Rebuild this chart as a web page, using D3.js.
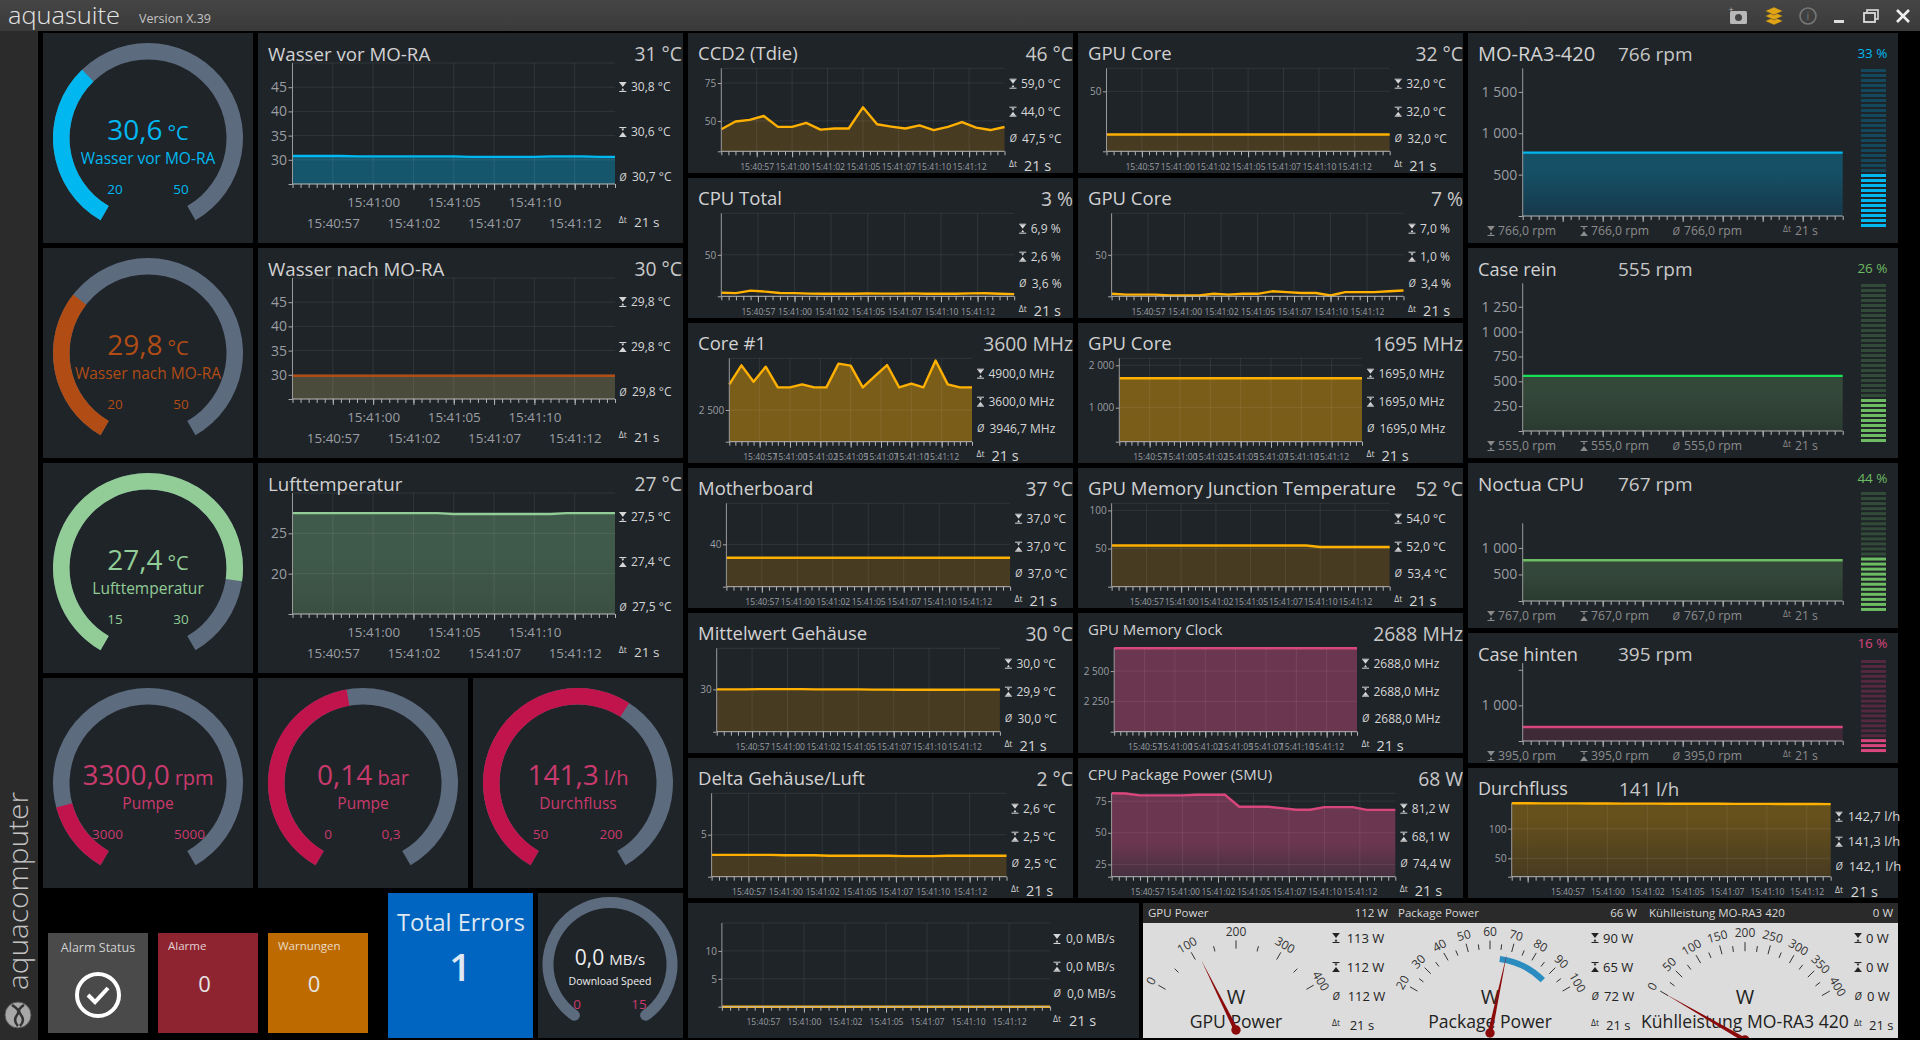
<!DOCTYPE html>
<html>
<head>
<meta charset="utf-8">
<title>aquasuite</title>
<script src="https://cdn.jsdelivr.net/npm/d3@7/dist/d3.min.js"></script>
<style>
    html, body { margin: 0; padding: 0; background: #000; overflow: hidden; }
    svg { display: block; }
    text { font-family: "Open Sans", "Noto Sans", sans-serif; }
</style>
</head>
<body>
<svg id="dash" width="1920" height="1040"></svg>
<script>
// --- time axis values ---
const sampleTimes = ["15:40:55","15:40:56","15:40:57","15:40:58","15:40:59","15:41:00","15:41:01","15:41:02","15:41:03","15:41:04","15:41:05","15:41:06","15:41:07","15:41:08","15:41:09","15:41:10","15:41:11","15:41:12","15:41:13","15:41:14","15:41:15"];
const majorTimes = ["15:40:57.500","15:41:00.000","15:41:02.500","15:41:05.000","15:41:07.500","15:41:10.000","15:41:12.500"];

// --- series values, one reading per second ---
const wasserVor = [30.8,30.8,30.8,30.8,30.7,30.7,30.7,30.7,30.7,30.7,30.7,30.6,30.6,30.6,30.6,30.6,30.7,30.7,30.7,30.6,30.6];
const wasserNach = [29.8,29.8,29.8,29.8,29.8,29.8,29.8,29.8,29.8,29.8,29.8,29.8,29.8,29.8,29.8,29.8,29.8,29.8,29.8,29.8,29.8];
const luftTemp = [27.5,27.5,27.5,27.5,27.5,27.5,27.5,27.5,27.5,27.5,27.4,27.4,27.4,27.4,27.4,27.4,27.4,27.5,27.5,27.5,27.5];
const ccd2 = [44.5,49.6,50.7,53.3,46.1,46.1,48.7,44.3,45,45,59,47.8,46.3,45,47.1,44,46.1,49.3,45.6,44,46];
const cpuTotal = [4.3,3.8,6.9,5.6,4,3.8,3.2,3.1,3,3.1,3.4,3.2,3.2,3.5,3,3.1,3,3.5,3.6,3,2.6];
const gpuCoreTemp = [32,32,32,32,32,32,32,32,32,32,32,32,32,32,32,32,32,32,32,32,32];
const gpuCoreLoad = [3,2,2,2,1,1,1,3,2,3,3,6,5,4,4,1,5,5,5,6,7];
const core1 = [3746,4668,3875,4603,3600,3600,3746,3600,3600,4750,4652,3600,4150,4684,3600,3778,3600,4900,3746,3600,3600];
const gpuCoreClock = [1695,1695,1695,1695,1695,1695,1695,1695,1695,1695,1695,1695,1695,1695,1695,1695,1695,1695,1695,1695,1695];
const motherboard = [37,37,37,37,37,37,37,37,37,37,37,37,37,37,37,37,37,37,37,37,37];
const gpuMemJunction = [54,54,54,54,54,54,54,54,54,54,54,54,54,54,54,52,52,52,52,52,52];
const mittelGehaeuse = [30,30,30,30.05,30.05,30.05,30.05,30,30,30,30,29.95,29.95,29.9,29.9,29.9,29.9,29.9,29.95,29.95,29.95];
const gpuMemClock = [2688,2688,2688,2688,2688,2688,2688,2688,2688,2688,2688,2688,2688,2688,2688,2688,2688,2688,2688,2688,2688];
const deltaGehaeuse = [2.6,2.6,2.6,2.6,2.6,2.55,2.55,2.55,2.5,2.5,2.5,2.5,2.5,2.45,2.45,2.45,2.5,2.5,2.5,2.5,2.5];
const packagePower = [81.2,81,79.6,79.6,79.6,79.6,80,80,80,70.6,70.6,70.6,69.5,68.2,68.2,70.3,70.3,70.3,68.1,68.1,68.1];
const downloadSpeed = [0,0,0,0,0,0,0,0,0,0,0,0,0,0,0,0,0,0,0,0,0];
const moRaRpm = [766,766,766,766,766,766,766,766,766,766,766,766,766,766,766,766,766,766,766,766,766];
const caseReinRpm = [555,555,555,555,555,555,555,555,555,555,555,555,555,555,555,555,555,555,555,555,555];
const noctuaRpm = [767,767,767,767,767,767,767,767,767,767,767,767,767,767,767,767,767,767,767,767,767];
const caseHintenRpm = [395,395,395,395,395,395,395,395,395,395,395,395,395,395,395,395,395,395,395,395,395];
const durchfluss = [142.7,142.7,142.6,142.5,142.5,142.3,142.3,142.2,142.1,142.1,142,142,141.9,141.9,141.8,141.8,141.7,141.6,141.5,141.4,141.3];

// --- y ticks per chart, the first one of each chart has no label ---
const tempTicks = [25,30,35,40,45];
const luftTicks = [15,20,25];
const ccdTicks = [30,50,75];
const gpuTempTicks = [25,50];
const loadTicks = [0,50];
const coreTicks = [965,2500];
const gpuClockTicks = [198,1000,2000];
const boardTicks = [30.5,40];
const junctionTicks = [0,50,100];
const mittelTicks = [20,30];
const memClockTicks = [2000,2250,2500];
const deltaTicks = [0,5];
const powerTicks = [15.3,25,50,75];
const downloadTicks = [0,5,10];
const moRaTicks = [0,500,1000,1500];
const caseReinTicks = [0,250,500,750,1000,1250];
const noctuaTicks = [0,500,1000];
const caseHintenTicks = [0,1000,2000];
const flowTicks = [19,50,100];

// --- fan duty in percent ---
const fanDuty = [33,26,44,16];

// --- gauge readings: value, scale min, scale max ---
const gaugeValues = [30.6,29.8,27.4,3300,0.14,141.3,0];
const gaugeMins = [20,20,15,3000,0,50,0];
const gaugeMaxs = [50,50,30,5000,0.3,200,15];

// --- analog meters ---
const gpuMeterTicks = [0,50,100,150,200,250,300,350,400];
const gpuMeterLabels = [0,100,200,300,400];
const packageMeterTicks = [20,25,30,35,40,45,50,55,60,65,70,75,80,85,90,95,100];
const packageMeterLabels = [20,30,40,50,60,70,80,90,100];
const coolingMeterTicks = [0,25,50,75,100,125,150,175,200,225,250,275,300,325,350,375,400];
const coolingMeterLabels = [0,50,100,150,200,250,300,350,400];
const meterNeedles = [112,68,0];
const packageRange = [65,90];

const svg = d3.select("#dash");
const parseClock = d3.timeParse("%H:%M:%S");
const parseClockMs = d3.timeParse("%H:%M:%S.%L");
const clockFormat = d3.timeFormat("%H:%M:%S");
const times = sampleTimes.map(parseClock);
const majors = majorTimes.map(parseClockMs);
const numFormat = d3.formatLocale({decimal: ",", thousands: " ", grouping: [3], currency: ["", ""]}).format(",d");

const panelBg = "#1f2429";
const amber = "#ffb000";
const pink = "#d9467c";
let gradCount = 0;

function label(g, x, y, str, size, color, anchor) {
    return g.append("text")
        .attr("x", x).attr("y", y)
        .attr("dy", "0.35em")
        .attr("text-anchor", anchor || "start")
        .attr("font-size", size)
        .attr("fill", color)
        .text(str);
}

function panel(x, y, w, h, color) {
    svg.append("rect").attr("x", x).attr("y", y).attr("width", w).attr("height", h).attr("fill", color || panelBg);
}

// hourglass icon, kind is max or min
function hourglass(g, x, y, kind, color) {
    const big = kind === "max" ? -1 : 1;
    const p = d3.path();
    p.moveTo(x - 3.5, y - 4.5); p.lineTo(x + 3.5, y - 4.5);
    p.moveTo(x - 3.5, y + 4.5); p.lineTo(x + 3.5, y + 4.5);
    g.append("path").attr("d", p).attr("stroke", color).attr("stroke-width", 1);
    const t = d3.path();
    t.moveTo(x - 3, y + big * 4); t.lineTo(x + 3, y + big * 4); t.lineTo(x, y); t.closePath();
    t.moveTo(x - 1.5, y - big * 3.5); t.lineTo(x + 1.5, y - big * 3.5); t.lineTo(x, y - big * 1); t.closePath();
    g.append("path").attr("d", t).attr("fill", color);
}

function statIcon(g, kind, x, y, color) {
    if (kind === "avg") label(g, x, y, "Ø", 10, color, "middle").attr("font-style", "italic");
    else if (kind === "dt") label(g, x, y - 2, "Δt", 8.5, color, "middle");
    else hourglass(g, x, y, kind, color);
}

function statColumn(g, iconX, textX, ys, texts, size, dtSize, color) {
    ["max", "min", "avg"].forEach((k, i) => {
        statIcon(g, k, iconX, ys[i], color);
        label(g, textX + (k === "avg" ? 1 : 0), ys[i], texts[i], size, color);
    });
    statIcon(g, "dt", iconX, ys[3], color);
    label(g, textX + 3, ys[3], "21 s", dtSize, color);
}

// one history chart: grid, filled area, line and time axis
function timeChart(o) {
    const g = svg.append("g");
    const shift = o.shift || 0;
    const ts = times.map(t => d3.timeSecond.offset(t, shift));
    const x = d3.scaleTime().domain([ts[0], ts[ts.length - 1]]).range([o.x0, o.x1]);
    const y = d3.scaleLinear().domain(o.domain).range([o.y1, o.y0]);
    const rows = o.values.map((v, i) => ({t: ts[i], v: v}));
    const gridX = o.extraMajor ? [parseClock(o.extraMajor)].concat(majors) : majors;

    let fill = o.fill;
    if (o.fillEnd) {
        const id = "grad" + (gradCount++);
        const grad = svg.append("defs").append("linearGradient").attr("id", id)
            .attr("x1", 0).attr("x2", 0).attr("y1", 0).attr("y2", 1);
        grad.append("stop").attr("offset", o.fillStop || "45%").attr("stop-color", o.fill);
        grad.append("stop").attr("offset", "100%").attr("stop-color", o.fillEnd);
        fill = `url(#${id})`;
    }
    if (fill) {
        g.append("path").datum(rows).attr("fill", fill)
            .attr("d", d3.area().x(d => x(d.t)).y0(o.y1).y1(d => y(d.v)));
    }

    // grid sits over the area so that it still shows through
    if (o.grid !== false) {
        g.selectAll(".gx").data(gridX).enter().append("line")
            .attr("x1", d => x(d)).attr("x2", d => x(d))
            .attr("y1", o.y0).attr("y2", o.y1)
            .attr("stroke", "rgba(255,255,255,0.08)");
        g.selectAll(".gy").data(o.ticks.concat(o.domain[1])).enter().append("line")
            .attr("x1", o.x0).attr("x2", o.x1)
            .attr("y1", d => y(d)).attr("y2", d => y(d))
            .attr("stroke", "rgba(255,255,255,0.08)");
    }

    g.append("path").datum(rows).attr("fill", "none")
        .attr("stroke", o.line).attr("stroke-width", o.lineWidth || 2.4)
        .attr("stroke-linejoin", "round")
        .attr("d", d3.line().x(d => x(d.t)).y(d => y(d.v)));

    // y axis
    const yAxis = d3.axisLeft(y).tickValues(o.ticks).tickSize(o.tickLen || 3.5).tickPadding(1.5)
        .tickFormat(d => d === o.ticks[0] || d === o.hideTick ? "" : numFormat(d));
    const ya = g.append("g").attr("transform", `translate(${o.x0},0)`).call(yAxis);
    ya.select(".domain").remove();
    ya.selectAll("line").attr("stroke", "#a8a8a8");
    ya.selectAll("text").attr("font-size", o.yFont || 10).attr("fill", "#9a9ea2");
    g.append("line").attr("x1", o.x0).attr("x2", o.x0).attr("y1", o.y0).attr("y2", o.y1).attr("stroke", "#9a9a9a");

    // x axis: minor ticks every half second, major ticks carry the labels
    const ax = g.append("g").attr("transform", `translate(0,${o.y1})`);
    const minor = d3.axisBottom(x).tickValues(x.ticks(d3.timeMillisecond.every(500))).tickSize(4).tickFormat("");
    const mi = ax.append("g").call(minor);
    mi.select(".domain").remove();
    mi.selectAll("line").attr("stroke", "#b4b4b4");
    ax.append("line").attr("x1", o.x0).attr("x2", o.x1).attr("stroke", "#b4b4b4");
    const major = d3.axisBottom(x).tickValues(gridX).tickSize(6)
        .tickFormat(d => o.noTimes || (o.extraMajor && d === gridX[0]) ? "" : clockFormat(d));
    const ma = ax.append("g").call(major);
    ma.select(".domain").remove();
    ma.selectAll("line").attr("stroke", "#b4b4b4");
    ma.selectAll("text")
        .attr("font-size", o.xFont || 8.6)
        .attr("fill", "#9a9ea2")
        .attr("dy", "0.35em")
        .attr("y", (d, i) => o.stagger ? (i % 2 === 0 ? 39 : 18) : 15.4);
    return g;
}

function chartTitle(px, py, pw, title, value, titleOpts) {
    const g = svg.append("g");
    const t = titleOpts || {};
    label(g, px + 10, py + (t.dy || 21), title, t.size || 18.5, "#d2d2d2");
    label(g, px + pw, py + 21, value, 19.3, "#c8c8c8", "end");
    return g;
}

function gauge(o) {
    const g = svg.append("g").attr("transform", `translate(${o.cx},${o.cy})`);
    const angle = d3.scaleLinear().domain([o.min, o.max]).range([-150 * Math.PI / 180, 150 * Math.PI / 180]);
    const arc = d3.arc().innerRadius(o.r - o.thick).outerRadius(o.r).cornerRadius(o.round || 0);
    g.append("path").attr("d", arc({startAngle: angle(o.min), endAngle: angle(o.max)})).attr("fill", "#5d6b7e");
    if (o.value > o.min) {
        g.append("path").attr("d", arc({startAngle: angle(o.min), endAngle: angle(o.value)})).attr("fill", o.arcColor);
    }
    const vt = g.append("text").attr("text-anchor", "middle").attr("y", o.valueY).attr("fill", o.valueColor || o.color);
    vt.append("tspan").attr("font-size", o.valueSize).text(o.valueText);
    vt.append("tspan").attr("font-size", o.unitSize).attr("dx", 5).text(o.unit);
    label(g, 0, o.labelY, o.name, o.nameSize, o.nameColor || o.color, "middle");
    label(g, o.loX, o.scaleY, o.loText, o.scaleSize, o.color, "middle");
    label(g, o.hiX, o.scaleY, o.hiText, o.scaleSize, o.color, "middle");
}

// analog needle meter of the bottom right block
function meter(o) {
    const g = meterLayer.append("g");
    const a = d3.scaleLinear().domain([o.ticks[0], o.ticks[o.ticks.length - 1]]).range([-60, 60]);
    const polar = (deg, r) => {
        const t = deg * Math.PI / 180;
        return [o.cx + r * Math.sin(t), o.cy - r * Math.cos(t)];
    };
    o.ticks.forEach(v => {
        const isMajor = o.labels.includes(v);
        const from = polar(a(v), o.r * 0.83);
        const to = polar(a(v), o.r * (isMajor ? 0.915 : 0.885));
        g.append("line").attr("x1", from[0]).attr("y1", from[1]).attr("x2", to[0]).attr("y2", to[1])
            .attr("stroke", "#333").attr("stroke-width", 1);
    });
    o.labels.forEach(v => {
        const p = polar(a(v), o.r);
        g.append("text").attr("text-anchor", "middle").attr("dy", "0.35em")
            .attr("font-size", 12).attr("fill", "#333")
            .attr("transform", `translate(${p[0]},${p[1]}) rotate(${a(v)})`).text(v);
    });
    if (o.band) {
        const bandArc = d3.arc().innerRadius(o.r * 0.71).outerRadius(o.r * 0.77)
            .startAngle(a(o.band[0]) * Math.PI / 180).endAngle(a(o.band[1]) * Math.PI / 180);
        g.append("path").attr("transform", `translate(${o.cx},${o.cy})`).attr("d", bandArc()).attr("fill", "#2b8cc0");
    }
    label(g, o.cx, 996.7, "W", 20, "#222", "middle");
    label(g, o.cx, 1022, o.name, 17.6, "#222", "middle");
    const deg = a(o.value);
    const tip = polar(deg, o.needle);
    const side1 = polar(deg - 90, 2.2);
    const side2 = polar(deg + 90, 2.2);
    g.append("path").attr("d", d3.line()([tip, side1, side2])).attr("fill", "#8b0a0a");
    g.append("circle").attr("cx", o.cx).attr("cy", o.cy).attr("r", 4.7).attr("fill", "#8b0a0a");
}

// vertical segment bar of a fan panel
function dutyBar(x, y0, y1, duty, color, dim) {
    const n = Math.round((y1 - y0) / 5);
    const band = d3.scaleBand().domain(d3.range(n)).range([y1, y0]);
    const lit = Math.ceil(duty / 100 * n - 0.1);
    svg.append("g").selectAll("rect").data(d3.range(n)).enter().append("rect")
        .attr("x", x).attr("width", 25)
        .attr("y", d => band(d)).attr("height", 3)
        .attr("fill", d => d < lit ? color : dim);
}

// ---------- chrome ----------
svg.append("rect").attr("width", 1920).attr("height", 1040).attr("fill", "#000");
const barGrad = svg.append("defs").append("linearGradient").attr("id", "barGrad").attr("x1", 0).attr("x2", 0).attr("y1", 0).attr("y2", 1);
barGrad.append("stop").attr("offset", "0%").attr("stop-color", "#454545");
barGrad.append("stop").attr("offset", "100%").attr("stop-color", "#3a3a3a");
svg.append("rect").attr("width", 1920).attr("height", 31).attr("fill", "url(#barGrad)");
svg.append("rect").attr("y", 31).attr("width", 38).attr("height", 1009).attr("fill", "#2b2b2b");

const chrome = svg.append("g");
chrome.append("text").attr("x", 8).attr("y", 24).attr("font-size", 23).attr("fill", "#e4e4e4")
    .attr("font-family", "Lato").attr("font-weight", 300)
    .attr("textLength", 112).attr("lengthAdjust", "spacingAndGlyphs").text("aquasuite");
label(chrome, 139, 19, "Version X.39", 12.5, "#c4c4c4");
chrome.append("text").attr("transform", "translate(28,990) rotate(-90)")
    .attr("font-size", 27).attr("fill", "#c4c4c4").attr("font-family", "Lato").attr("font-weight", 300)
    .attr("textLength", 198).attr("lengthAdjust", "spacingAndGlyphs").text("aquacomputer");
chrome.append("circle").attr("cx", 18).attr("cy", 1015).attr("r", 13).attr("fill", "#a8a8a8").attr("stroke", "#555");
chrome.append("path").attr("d", "M12 1005c6 4 8 6 5 10s-2 8 1 11M24 1005c-6 4-6 6-3 10s2 8-1 11").attr("fill", "none").attr("stroke", "#333").attr("stroke-width", 2.5);

// window icons
const icons = svg.append("g");
icons.append("rect").attr("x", 1730).attr("y", 11).attr("width", 17).attr("height", 13).attr("rx", 1.5).attr("fill", "#b8b8b8");
icons.append("circle").attr("cx", 1738.5).attr("cy", 17.5).attr("r", 3.5).attr("fill", "#444");
label(icons, 1731, 10, "+", 9, "#b8b8b8", "middle");
[22, 17, 12].forEach(yy => {
    icons.append("path").attr("d", `M1765 ${yy - 1}l9-4 9 4-9 4z`).attr("fill", "#e0a416").attr("stroke", "#3a3a3a").attr("stroke-width", 0.5);
});
icons.append("circle").attr("cx", 1808).attr("cy", 16).attr("r", 8).attr("fill", "none").attr("stroke", "#777").attr("stroke-width", 1.6);
label(icons, 1808, 16, "i", 11, "#777", "middle");
icons.append("rect").attr("x", 1834).attr("y", 20).attr("width", 10).attr("height", 3).attr("fill", "#ddd");
icons.append("rect").attr("x", 1867).attr("y", 10).attr("width", 11).attr("height", 9).attr("fill", "none").attr("stroke", "#ddd").attr("stroke-width", 1.6);
icons.append("rect").attr("x", 1864).attr("y", 13).attr("width", 11).attr("height", 9).attr("fill", "#3f3f3f").attr("stroke", "#ddd").attr("stroke-width", 1.8);
icons.append("path").attr("d", "M1897 10l12 12M1909 10l-12 12").attr("stroke", "#eee").attr("stroke-width", 2.6);

// ---------- left gauges ----------
[[43,33],[43,248],[43,463],[43,678],[258,678],[473,678]].forEach(p => panel(p[0], p[1], 210, 210));
const blue = "#00b8ef", rust = "#b04c14", green = "#92cc96", red = "#c2144c", pinkText = "#c93a6c";
const gaugeText = {r: 95, thick: 16.5, valueY: 1.5, valueSize: 28, unitSize: 20, labelY: 21, nameSize: 15.5, scaleY: 51, scaleSize: 13.5};

gauge({...gaugeText, cx: 148, cy: 138, min: gaugeMins[0], max: gaugeMaxs[0], value: gaugeValues[0], valueText: "30,6", unit: "°C", name: "Wasser vor MO-RA", loText: "20", hiText: "50", loX: -33, hiX: 33, arcColor: blue, color: blue});
gauge({...gaugeText, cx: 148, cy: 353, min: gaugeMins[1], max: gaugeMaxs[1], value: gaugeValues[1], valueText: "29,8", unit: "°C", name: "Wasser nach MO-RA", loText: "20", hiText: "50", loX: -33, hiX: 33, arcColor: rust, color: rust});
gauge({...gaugeText, cx: 148, cy: 568, min: gaugeMins[2], max: gaugeMaxs[2], value: gaugeValues[2], valueText: "27,4", unit: "°C", name: "Lufttemperatur", loText: "15", hiText: "30", loX: -33, hiX: 33, arcColor: green, color: green});
gauge({...gaugeText, cx: 148, cy: 783, min: gaugeMins[3], max: gaugeMaxs[3], value: gaugeValues[3], valueText: "3300,0", unit: "rpm", name: "Pumpe", loText: "3000", hiText: "5000", loX: -40.5, hiX: 41.5, arcColor: red, color: pinkText});
gauge({...gaugeText, cx: 363, cy: 783, min: gaugeMins[4], max: gaugeMaxs[4], value: gaugeValues[4], valueText: "0,14", unit: "bar", name: "Pumpe", loText: "0", hiText: "0,3", loX: -35, hiX: 28, arcColor: red, color: pinkText});
gauge({...gaugeText, cx: 578, cy: 783, min: gaugeMins[5], max: gaugeMaxs[5], value: gaugeValues[5], valueText: "141,3", unit: "l/h", name: "Durchfluss", loText: "50", hiText: "200", loX: -37.5, hiX: 33, arcColor: red, color: pinkText});

// ---------- left history charts ----------
const bigChart = {stagger: true, xFont: 13.4, yFont: 14, tickLen: 4};
const bigPanels = [
    {y: 33, title: "Wasser vor MO-RA", value: "31 °C", values: wasserVor, domain: [25, 50], ticks: tempTicks, line: blue, fill: "#15566c", stats: ["30,8 °C", "30,6 °C", "30,7 °C"]},
    {y: 248, title: "Wasser nach MO-RA", value: "30 °C", values: wasserNach, domain: [25, 50], ticks: tempTicks, line: rust, fill: "#4b4b3b", stats: ["29,8 °C", "29,8 °C", "29,8 °C"]},
    {y: 463, title: "Lufttemperatur", value: "27 °C", values: luftTemp, domain: [15, 30], ticks: luftTicks, line: green, fill: "#3f5a4a", fillEnd: "#3a4f42", stats: ["27,5 °C", "27,4 °C", "27,5 °C"]}
];
bigPanels.forEach(b => {
    panel(258, b.y, 425, 210);
    chartTitle(258, b.y, 424, b.title, b.value, {size: 18.7});
    timeChart({...bigChart, x0: 292.5, x1: 615, y0: b.y + 30, y1: b.y + 151, values: b.values, domain: b.domain, ticks: b.ticks, line: b.line, fill: b.fill, fillEnd: b.fillEnd});
    statColumn(svg.append("g"), 622.8, 631, [b.y + 54, b.y + 99, b.y + 144, b.y + 189], b.stats, 12, 13.5, "#d6d6d6");
});

// ---------- middle columns ----------
const smallPanels = [
    {x: 688, y: 33, title: "CCD2 (Tdie)", value: "46 °C", values: ccd2, domain: [30, 84.7], ticks: ccdTicks, x0: 721.3, x1: 1004.5, top: 35.3, bottom: 118.3, line: amber, fill: "#473b22", stats: ["59,0 °C", "44,0 °C", "47,5 °C"]},
    {x: 1078, y: 33, title: "GPU Core", value: "32 °C", values: gpuCoreTemp, domain: [25, 59.6], ticks: gpuTempTicks, x0: 1106.5, x1: 1389.7, top: 35.3, bottom: 118.3, line: amber, fill: "#473b22", stats: ["32,0 °C", "32,0 °C", "32,0 °C"]},
    {x: 688, y: 178, title: "CPU Total", value: "3 %", values: cpuTotal, domain: [0, 100], ticks: loadTicks, x0: 721.3, x1: 1014.2, top: 35.3, bottom: 118.3, line: amber, stats: ["6,9 %", "2,6 %", "3,6 %"]},
    {x: 1078, y: 178, title: "GPU Core", value: "7 %", values: gpuCoreLoad, domain: [0, 100], ticks: loadTicks, x0: 1111.6, x1: 1403.5, top: 35.3, bottom: 118.3, line: amber, stats: ["7,0 %", "1,0 %", "3,4 %"]},
    {x: 688, y: 323, title: "Core #1", value: "3600 MHz", values: core1, domain: [965, 5010], ticks: coreTicks, x0: 729.3, x1: 972, top: 35.3, bottom: 118.7, line: amber, fill: "#7b5d1a", stats: ["4900,0 MHz", "3600,0 MHz", "3946,7 MHz"]},
    {x: 1078, y: 323, title: "GPU Core", value: "1695 MHz", values: gpuCoreClock, domain: [198, 2165], ticks: gpuClockTicks, x0: 1119.3, x1: 1362, top: 35.3, bottom: 118.7, line: amber, fill: "#7b5d1a", stats: ["1695,0 MHz", "1695,0 MHz", "1695,0 MHz"]},
    {x: 688, y: 468, title: "Motherboard", value: "37 °C", values: motherboard, domain: [30.5, 49.2], ticks: boardTicks, x0: 726.4, x1: 1010.1, top: 35.3, bottom: 118.7, line: amber, fill: "#473b22", stats: ["37,0 °C", "37,0 °C", "37,0 °C"]},
    {x: 1078, y: 468, title: "GPU Memory Junction Temperature", value: "52 °C", values: gpuMemJunction, domain: [0, 109.3], ticks: junctionTicks, x0: 1111.6, x1: 1389.7, top: 35.3, bottom: 118.7, line: amber, fill: "#473b22", stats: ["54,0 °C", "52,0 °C", "53,4 °C"]},
    {x: 688, y: 613, title: "Mittelwert Gehäuse", value: "30 °C", values: mittelGehaeuse, domain: [20, 39.7], ticks: mittelTicks, x0: 716.7, x1: 999.9, top: 35.3, bottom: 118.7, line: amber, fill: "#473b22", stats: ["30,0 °C", "29,9 °C", "30,0 °C"]},
    {x: 1078, y: 613, title: "GPU Memory Clock", titleSize: 15, titleDy: 17, value: "2688 MHz", values: gpuMemClock, domain: [2000, 2688], ticks: memClockTicks, x0: 1114.2, x1: 1357, top: 35.3, bottom: 118.7, line: pink, fill: "#6b3650", stats: ["2688,0 MHz", "2688,0 MHz", "2688,0 MHz"]},
    {x: 688, y: 758, title: "Delta Gehäuse/Luft", value: "2 °C", values: deltaGehaeuse, domain: [0, 9.93], ticks: deltaTicks, x0: 711.6, x1: 1006.5, top: 35.3, bottom: 118.7, line: amber, fill: "#473b22", stats: ["2,6 °C", "2,5 °C", "2,5 °C"]},
    {x: 1078, y: 758, title: "CPU Package Power (SMU)", titleSize: 15, titleDy: 17, value: "68 W", values: packagePower, domain: [15.3, 81.2], ticks: powerTicks, x0: 1111.6, x1: 1395.3, top: 35.3, bottom: 118.7, line: pink, fill: "#6b3650", fillEnd: "#46303f", fillStop: "60%", stats: ["81,2 W", "68,1 W", "74,4 W"]}
];
smallPanels.forEach(s => {
    panel(s.x, s.y, 385, 140);
    chartTitle(s.x, s.y, 385, s.title, s.value, {size: s.titleSize, dy: s.titleDy});
    timeChart({x0: s.x0, x1: s.x1, y0: s.y + s.top, y1: s.y + s.bottom, values: s.values, domain: s.domain, ticks: s.ticks, line: s.line, fill: s.fill, fillEnd: s.fillEnd, fillStop: s.fillStop});
    statColumn(svg.append("g"), s.x1 + 8.5, s.x1 + 16.5, [s.y + 50.7, s.y + 78.7, s.y + 105.7, s.y + 132.7], s.stats, 12, 14.5, "#d6d6d6");
});

// download chart below the middle columns
panel(688, 903, 451, 135);
timeChart({x0: 721.9, x1: 1050.1, y0: 923, y1: 1006.7, values: downloadSpeed, domain: [0, 15], ticks: downloadTicks, line: amber});
statColumn(svg.append("g"), 1057, 1066, [939, 966.7, 993.3, 1020.7], ["0,0 MB/s", "0,0 MB/s", "0,0 MB/s"], 12, 14.5, "#d6d6d6");

// ---------- fan panels on the right ----------
const fanPanels = [
    {y: 33, h: 210, title: "MO-RA3-420", titleSize: 20, value: "766 rpm", duty: fanDuty[0], values: moRaRpm, domain: [0, 1785], ticks: moRaTicks, y0: 68.3, y1: 216, titleY: 54, pctY: 53, barTop: 69, barBottom: 229, line: blue, fill: "#155066", fillEnd: "#17384a", dim: "#14485c", statY: 231, stats: ["766,0 rpm", "766,0 rpm", "766,0 rpm"], pctColor: blue},
    {y: 248, h: 210, title: "Case rein", titleSize: 18.2, value: "555 rpm", duty: fanDuty[1], values: caseReinRpm, domain: [0, 1486], ticks: caseReinTicks, y0: 283.3, y1: 431, titleY: 269.3, pctY: 268, barTop: 284, barBottom: 444, line: "#17e056", fill: "#34483a", fillEnd: "#2a3a30", dim: "#324a38", statY: 446, stats: ["555,0 rpm", "555,0 rpm", "555,0 rpm"], pctColor: "#6dbb62", barColor: "#6dbb62"},
    {y: 463, h: 165, title: "Noctua CPU", titleSize: 19, value: "767 rpm", duty: fanDuty[2], values: noctuaRpm, domain: [0, 1464], ticks: noctuaTicks, y0: 523.3, y1: 601, titleY: 484, pctY: 478, barTop: 492, barBottom: 613, line: "#6dbb62", fill: "#34483a", fillEnd: "#2a3a30", dim: "#324a38", statY: 616, stats: ["767,0 rpm", "767,0 rpm", "767,0 rpm"], pctColor: "#6dbb62"},
    {y: 633, h: 130, title: "Case hinten", titleSize: 18.2, value: "395 rpm", duty: fanDuty[3], values: caseHintenRpm, domain: [0, 2190], ticks: caseHintenTicks, hideTick: 2000, y0: 663, y1: 741, titleY: 654.3, pctY: 643, barTop: 660, barBottom: 754, line: pink, fill: "#3f2a38", dim: "#54293f", statY: 756, stats: ["395,0 rpm", "395,0 rpm", "395,0 rpm"], pctColor: pink}
];
fanPanels.forEach(f => {
    panel(1468, f.y, 430, f.h);
    const g = svg.append("g");
    label(g, 1478, f.titleY, f.title, f.titleSize, "#d2d2d2");
    label(g, 1618, f.titleY, f.value, 19, "#c8c8c8");
    label(g, 1887.5, f.pctY, f.duty + " %", 13.5, f.pctColor, "end");
    dutyBar(1861, f.barTop, f.barBottom, f.duty, f.barColor || f.line, f.dim);
    timeChart({x0: 1522.7, x1: 1842.7, y0: f.y0, y1: f.y1, values: f.values, domain: f.domain, ticks: f.ticks, hideTick: f.hideTick, line: f.line, fill: f.fill, fillEnd: f.fillEnd, fillStop: "30%", grid: false, noTimes: true, yFont: 14, tickLen: 4});
    const stat = svg.append("g");
    [[1491, 1498, "max"], [1584, 1591, "min"], [1676, 1684, "avg"]].forEach((c, i) => {
        statIcon(stat, c[2], c[0], f.statY, "#8c8c8c");
        label(stat, c[1], f.statY, f.stats[i], 12.2, "#8c8c8c");
    });
    statIcon(stat, "dt", 1787, f.statY, "#8c8c8c");
    label(stat, 1795, f.statY, "21 s", 12.2, "#8c8c8c");
});

panel(1468, 768, 430, 130);
const flowHead = svg.append("g");
label(flowHead, 1478, 789, "Durchfluss", 18, "#d2d2d2");
label(flowHead, 1619, 789, "141 l/h", 18.8, "#c8c8c8");
timeChart({x0: 1511.7, x1: 1830.7, y0: 803.3, y1: 876.7, values: durchfluss, domain: [19, 142.7], ticks: flowTicks, shift: -1, extraMajor: "15:40:55", line: amber, fill: "#66501c", fillEnd: "#473b20", fillStop: "20%", yFont: 10.5});
statColumn(svg.append("g"), 1839, 1847.7, [816.7, 841.7, 866.3, 891.7], ["142,7 l/h", "141,3 l/h", "142,1 l/h"], 13, 14.5, "#d6d6d6");

// ---------- bottom left tiles ----------
panel(48, 933, 100, 100, "#4a4a4a");
panel(158, 933, 100, 100, "#8f2431");
panel(268, 933, 100, 100, "#bd6a00");
panel(388, 893, 145, 145, "#0065c1");
panel(538, 893, 145, 145);
const tileText = svg.append("g");
label(tileText, 98, 948, "Alarm Status", 12.5, "#d0d0d0", "middle");
tileText.append("circle").attr("cx", 98).attr("cy", 995).attr("r", 21).attr("fill", "none").attr("stroke", "#fff").attr("stroke-width", 4);
tileText.append("path").attr("d", "M88 995l7 7 13-14").attr("fill", "none").attr("stroke", "#fff").attr("stroke-width", 4);
label(tileText, 168, 946, "Alarme", 11.5, "#e0d0d0");
label(tileText, 204.5, 984, "0", 22, "#e4e4e4", "middle");
label(tileText, 278, 946, "Warnungen", 11.5, "#eadcc8");
label(tileText, 314, 984, "0", 22, "#e4e4e4", "middle");
label(tileText, 461, 923, "Total Errors", 23.5, "#dfe8f2", "middle");
label(tileText, 460, 968, "1", 38, "#dfe8f2", "middle").attr("font-weight", 600);

gauge({cx: 610, cy: 964.5, r: 67.5, thick: 11, round: 5.5, min: gaugeMins[6], max: gaugeMaxs[6], value: gaugeValues[6], valueText: "0,0", unit: "MB/s", valueY: 0, valueSize: 21, unitSize: 15, labelY: 16.5, name: "Download Speed", nameSize: 10.5, nameColor: "#eee", valueColor: "#eee", loText: "0", hiText: "15", loX: -33, hiX: 29, scaleY: 39.5, scaleSize: 13.5, arcColor: red, color: pinkText});

// ---------- analog meters, bottom right ----------
panel(1143, 903, 755, 20, "#2a2a2a");
panel(1143, 923, 755, 115, "#dcdcdc");
const meterHead = svg.append("g");
label(meterHead, 1148, 913, "GPU Power", 11.5, "#d8d8d8");
label(meterHead, 1388, 913, "112 W", 11.5, "#d8d8d8", "end");
label(meterHead, 1398, 913, "Package Power", 11.5, "#d8d8d8");
label(meterHead, 1637, 913, "66 W", 11.5, "#d8d8d8", "end");
label(meterHead, 1649, 913, "Kühlleistung MO-RA3 420", 11.5, "#d8d8d8");
label(meterHead, 1893, 913, "0 W", 11.5, "#d8d8d8", "end");

const meterClip = svg.append("defs").append("clipPath").attr("id", "meterClip");
meterClip.append("rect").attr("x", 1143).attr("y", 923).attr("width", 755).attr("height", 115);
const meterLayer = svg.append("g").attr("clip-path", "url(#meterClip)");

meter({cx: 1236, cy: 1030, r: 98, needle: 78, ticks: gpuMeterTicks, labels: gpuMeterLabels, value: meterNeedles[0], name: "GPU Power"});
meter({cx: 1490, cy: 1033, r: 101, needle: 81, ticks: packageMeterTicks, labels: packageMeterLabels, value: meterNeedles[1], band: packageRange, name: "Package Power"});
meter({cx: 1745, cy: 1040, r: 107, needle: 93, ticks: coolingMeterTicks, labels: coolingMeterLabels, value: meterNeedles[2], name: "Kühlleistung MO-RA3 420"});
statColumn(svg.append("g"), 1336, 1346.7, [938, 967, 996, 1025], ["113 W", "112 W", "112 W"], 13, 13, "#222");
statColumn(svg.append("g"), 1595, 1603, [938, 967, 996, 1025], ["90 W", "65 W", "72 W"], 13, 13, "#222");
statColumn(svg.append("g"), 1858, 1866, [938, 967, 996, 1025], ["0 W", "0 W", "0 W"], 13, 13, "#222");
</script>
</body>
</html>
